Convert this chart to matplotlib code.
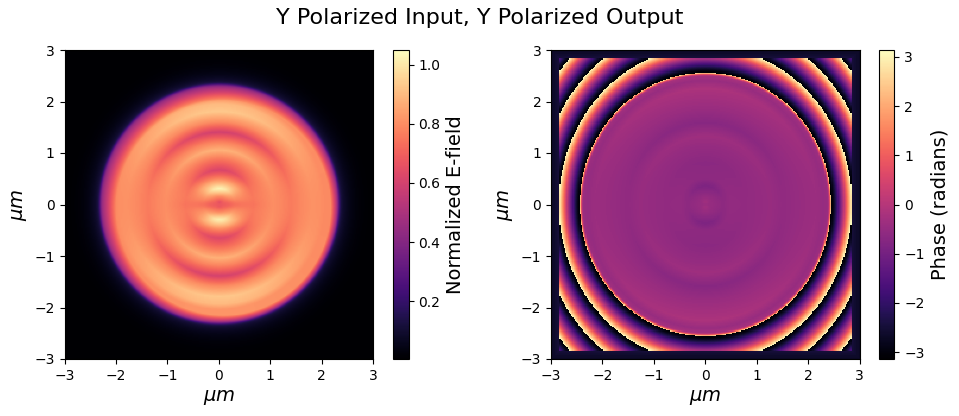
import numpy as np
import matplotlib
matplotlib.use("Agg")
import matplotlib.pyplot as plt

# ---------------- data ----------------
title = "Y Polarized Input, Y Polarized Output"
extent = [-3, 3, -3, 3]
ticks = [-3, -2, -1, 0, 1, 2, 3]

# amplitude: radial ring profile along the vertical direction (um, normalized field)
amp_radius = [0.0, 0.15, 0.30, 0.45, 0.66, 0.85, 1.05, 1.20, 1.40, 1.60, 1.80, 1.95, 2.05, 3.5]
amp_profile = [0.72, 0.78, 0.90, 0.82, 0.62, 0.74, 0.88, 0.78, 0.60, 0.80, 0.93, 0.90, 0.82, 0.82]
amp_side_level = 0.79          # level at left/right sides (rings fade there)
amp_center_blob = [0.12, 0.30] # extra brightness above/below centre, offset
amp_center_streak = 0.10       # darker horizontal streak through centre
amp_disk_radius = 2.33         # outer edge of the bright disk
amp_rim_width = [0.24, 0.11]   # mean, variation (wide rim to upper left)
amp_rim_level = 0.40
amp_halo = [0.14, 0.20]        # level, decay length
amp_range = [0.004, 1.05]

# phase: interior profile vs normalized elliptical radius
ph_rho = [0.0, 0.06, 0.14, 0.20, 0.32, 0.44, 0.52, 0.62, 0.72, 0.80, 0.88, 0.94, 0.97, 1.0]
ph_val = [-0.2, -0.5, -0.85, -0.6, -0.65, -0.5, -0.35, -0.7, -0.45, -0.3, -0.15, -0.45, -0.25, -0.25]
ph_edge_rise = 3.0
ph_ellipse0 = [2.45, 2.57]     # inner boundary semi-axes (x, y)
ph_ellipse_step = [0.41, 0.51] # growth of semi-axes per 2*pi of phase
ph_gamma = 1.3
ph_boundary = [0.16, -2.45]    # boundary layer width, phase there

# ---------------- build fields ----------------
N = 260
xs = np.linspace(extent[0], extent[1], N)
X, Y = np.meshgrid(xs, xs)

R = np.hypot(X, Y - 0.01)
theta = np.arctan2(Y, X)
w = 0.15 + 0.85 * Y**2 / (R**2 + 1e-3)
core = amp_side_level + (np.interp(R, amp_radius, amp_profile) - amp_side_level) * w
core -= amp_center_streak * np.exp(-(X / 0.5)**2 - (Y / 0.1)**2)
core += amp_center_blob[0] * np.exp(-(X / 0.36)**2 - ((np.abs(Y) - amp_center_blob[1]) / 0.12)**2)
wr = amp_rim_width[0] + amp_rim_width[1] * np.cos(theta - 3 * np.pi / 4)
t = np.clip((R - (amp_disk_radius - wr)) / wr, 0, 1)
inner = core * (1 - t) + amp_rim_level * t
edge = 1 / (1 + np.exp((R - amp_disk_radius) / 0.015))
halo = amp_halo[0] * np.exp(-np.clip(R - amp_disk_radius, 0, None) / amp_halo[1])
A = inner * edge + halo * (1 - edge)

a0, b0 = ph_ellipse0
da, db = ph_ellipse_step
g0 = (X / a0)**2 + (Y / b0)**2
rho = np.sqrt(g0)
wphi = 0.3 + 0.7 * Y**2 / (X**2 + Y**2 + 1e-3)
base = np.interp(rho, ph_rho, ph_val)
mean_in = -0.5
phi_in = mean_in + (base - mean_in) * wphi
phi_in += ph_edge_rise * np.clip((rho - 0.97) / 0.03, 0, 1)**2

lo = np.zeros_like(X)
hi = np.full_like(X, 4.0)
for _ in range(40):
    mid = (lo + hi) / 2
    g = (X / (a0 + da * mid))**2 + (Y / (b0 + db * mid))**2
    lo = np.where(g > 1, mid, lo)
    hi = np.where(g > 1, hi, mid)
F = (lo + hi) / 2
phi_out = -np.pi + 2 * np.pi * (F % 1.0)**ph_gamma
phi = np.where(g0 <= 1, phi_in, phi_out)
d_edge = 3 - np.maximum(np.abs(X), np.abs(Y))
phi = np.where(d_edge < ph_boundary[0], ph_boundary[1] - 0.25 * (1 - d_edge / ph_boundary[0]), phi)
phi = np.clip(phi, -np.pi, np.pi)

# ---------------- plot ----------------
W, H = 959, 416
fig = plt.figure(figsize=(W / 100, H / 100), dpi=100)
bot = (H - 359) / H
hgt = 309 / H
ax1 = fig.add_axes([64.5 / W, bot, 308.8 / W, hgt])
cax1 = fig.add_axes([393.3 / W, bot, 15.4 / W, hgt])
ax2 = fig.add_axes([551 / W, bot, 308.8 / W, hgt])
cax2 = fig.add_axes([879 / W, bot, 15.4 / W, hgt])

im1 = ax1.imshow(A, extent=extent, origin="lower", cmap="magma",
                 vmin=amp_range[0], vmax=amp_range[1], aspect="auto")
im2 = ax2.imshow(phi, extent=extent, origin="lower", cmap="magma",
                 vmin=-np.pi, vmax=np.pi, aspect="auto", interpolation="nearest")

for ax in (ax1, ax2):
    ax.set_xticks(ticks)
    ax.set_yticks(ticks)
    ax.set_xlabel(r"$\mu m$", fontsize=14)
    ax.set_ylabel(r"$\mu m$", fontsize=14)

cb1 = fig.colorbar(im1, cax=cax1)
cb1.set_label("Normalized E-field", fontsize=14)
cb2 = fig.colorbar(im2, cax=cax2)
cb2.set_label("Phase (radians)", fontsize=14)

fig.text(0.5, 1 - 18 / H, title, ha="center", va="center", fontsize=16)
fig.savefig("out.png", dpi=100)
